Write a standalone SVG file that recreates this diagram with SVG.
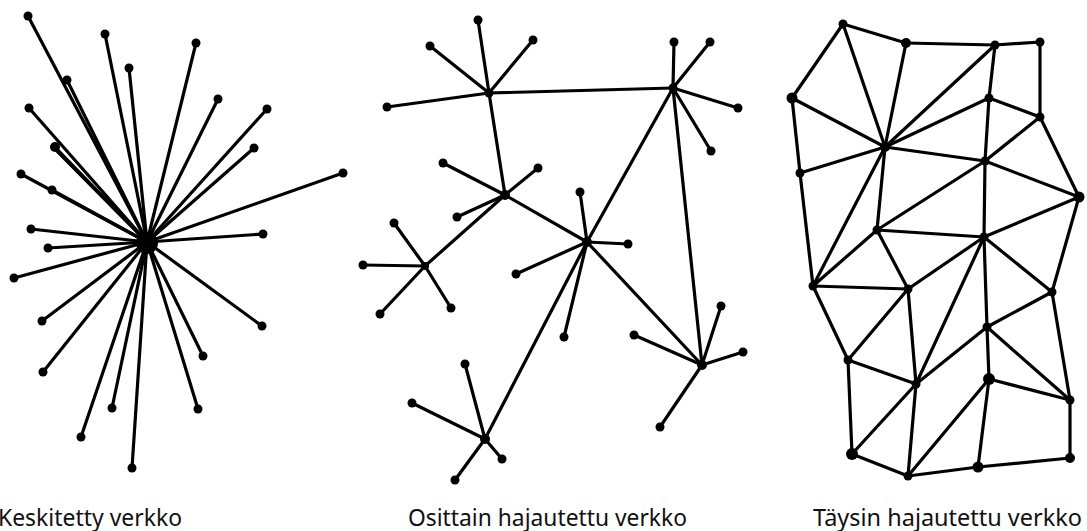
<svg xmlns="http://www.w3.org/2000/svg" width="1087" height="531" viewBox="0 0 1087 531">
<style>
.e{stroke:#000;stroke-width:3.2;stroke-linecap:round}
.n{fill:#000}
.t{font-family:"Noto Sans","Open Sans",sans-serif;font-size:23px;fill:#111}
</style>
<rect width="1087" height="531" fill="#fff"/>
<g id="connectors">
<g id="c-central">
<line class="e" x1="147" y1="242" x2="28" y2="16"/>
<line class="e" x1="147" y1="242" x2="105" y2="34"/>
<line class="e" x1="147" y1="242" x2="196" y2="43"/>
<line class="e" x1="147" y1="242" x2="129" y2="68"/>
<line class="e" x1="147" y1="242" x2="67" y2="80"/>
<line class="e" x1="147" y1="242" x2="218" y2="99"/>
<line class="e" x1="147" y1="242" x2="29" y2="108"/>
<line class="e" x1="147" y1="242" x2="267" y2="109"/>
<line class="e" x1="147" y1="242" x2="53" y2="145"/>
<line class="e" x1="147" y1="242" x2="57" y2="151"/>
<line class="e" x1="147" y1="242" x2="254" y2="148"/>
<line class="e" x1="147" y1="242" x2="21" y2="174"/>
<line class="e" x1="147" y1="242" x2="52" y2="190"/>
<line class="e" x1="147" y1="242" x2="343" y2="173"/>
<line class="e" x1="147" y1="242" x2="31" y2="229"/>
<line class="e" x1="147" y1="242" x2="263" y2="234"/>
<line class="e" x1="147" y1="242" x2="48" y2="248"/>
<line class="e" x1="147" y1="242" x2="14" y2="278"/>
<line class="e" x1="147" y1="242" x2="42" y2="321"/>
<line class="e" x1="147" y1="242" x2="262" y2="326"/>
<line class="e" x1="147" y1="242" x2="43" y2="372"/>
<line class="e" x1="147" y1="242" x2="203" y2="356"/>
<line class="e" x1="147" y1="242" x2="112" y2="408"/>
<line class="e" x1="147" y1="242" x2="198" y2="409"/>
<line class="e" x1="147" y1="242" x2="81" y2="437"/>
<line class="e" x1="147" y1="242" x2="132" y2="468"/>
</g>
<g id="c-partial">
<line class="e" x1="489" y1="93" x2="478" y2="20"/>
<line class="e" x1="489" y1="93" x2="430" y2="46"/>
<line class="e" x1="489" y1="93" x2="533" y2="40"/>
<line class="e" x1="489" y1="93" x2="387" y2="107"/>
<line class="e" x1="489" y1="93" x2="673" y2="88"/>
<line class="e" x1="489" y1="93" x2="505" y2="195"/>
<line class="e" x1="673" y1="88" x2="674" y2="42"/>
<line class="e" x1="673" y1="88" x2="710" y2="42"/>
<line class="e" x1="673" y1="88" x2="738" y2="108"/>
<line class="e" x1="673" y1="88" x2="711" y2="151"/>
<line class="e" x1="673" y1="88" x2="587" y2="242"/>
<line class="e" x1="673" y1="88" x2="702" y2="365"/>
<line class="e" x1="505" y1="195" x2="443" y2="163"/>
<line class="e" x1="505" y1="195" x2="538" y2="168"/>
<line class="e" x1="505" y1="195" x2="457" y2="217"/>
<line class="e" x1="505" y1="195" x2="587" y2="242"/>
<line class="e" x1="505" y1="195" x2="425" y2="266"/>
<line class="e" x1="587" y1="242" x2="580" y2="192"/>
<line class="e" x1="587" y1="242" x2="628" y2="244"/>
<line class="e" x1="587" y1="242" x2="516" y2="274"/>
<line class="e" x1="587" y1="242" x2="564" y2="337"/>
<line class="e" x1="587" y1="242" x2="702" y2="365"/>
<line class="e" x1="587" y1="242" x2="485" y2="439"/>
<line class="e" x1="702" y1="365" x2="634" y2="335"/>
<line class="e" x1="702" y1="365" x2="721" y2="306"/>
<line class="e" x1="702" y1="365" x2="743" y2="352"/>
<line class="e" x1="702" y1="365" x2="660" y2="427"/>
<line class="e" x1="425" y1="266" x2="363" y2="265"/>
<line class="e" x1="425" y1="266" x2="380" y2="314"/>
<line class="e" x1="425" y1="266" x2="451" y2="308"/>
<line class="e" x1="425" y1="266" x2="394" y2="223"/>
<line class="e" x1="485" y1="439" x2="465" y2="364"/>
<line class="e" x1="485" y1="439" x2="412" y2="403"/>
<line class="e" x1="485" y1="439" x2="502" y2="459"/>
<line class="e" x1="485" y1="439" x2="455" y2="480"/>
</g>
<g id="c-mesh">
<line class="e" x1="843" y1="24" x2="906" y2="43"/>
<line class="e" x1="843" y1="24" x2="792" y2="98"/>
<line class="e" x1="843" y1="24" x2="885" y2="147"/>
<line class="e" x1="906" y1="43" x2="995" y2="45"/>
<line class="e" x1="906" y1="43" x2="885" y2="147"/>
<line class="e" x1="995" y1="45" x2="1040" y2="42"/>
<line class="e" x1="995" y1="45" x2="885" y2="147"/>
<line class="e" x1="995" y1="45" x2="989" y2="98"/>
<line class="e" x1="1040" y1="42" x2="1040" y2="117"/>
<line class="e" x1="792" y1="98" x2="885" y2="147"/>
<line class="e" x1="792" y1="98" x2="800" y2="173"/>
<line class="e" x1="989" y1="98" x2="885" y2="147"/>
<line class="e" x1="989" y1="98" x2="1040" y2="117"/>
<line class="e" x1="989" y1="98" x2="985" y2="161"/>
<line class="e" x1="1040" y1="117" x2="985" y2="161"/>
<line class="e" x1="1040" y1="117" x2="1079" y2="197"/>
<line class="e" x1="885" y1="147" x2="800" y2="173"/>
<line class="e" x1="885" y1="147" x2="985" y2="161"/>
<line class="e" x1="885" y1="147" x2="877" y2="230"/>
<line class="e" x1="885" y1="147" x2="813" y2="286"/>
<line class="e" x1="985" y1="161" x2="1079" y2="197"/>
<line class="e" x1="985" y1="161" x2="984" y2="237"/>
<line class="e" x1="985" y1="161" x2="877" y2="230"/>
<line class="e" x1="1079" y1="197" x2="984" y2="237"/>
<line class="e" x1="1079" y1="197" x2="1052" y2="292"/>
<line class="e" x1="877" y1="230" x2="984" y2="237"/>
<line class="e" x1="800" y1="173" x2="813" y2="286"/>
<line class="e" x1="877" y1="230" x2="813" y2="286"/>
<line class="e" x1="877" y1="230" x2="908" y2="289"/>
<line class="e" x1="984" y1="237" x2="908" y2="289"/>
<line class="e" x1="984" y1="237" x2="1052" y2="292"/>
<line class="e" x1="984" y1="237" x2="987" y2="327"/>
<line class="e" x1="984" y1="237" x2="916" y2="384"/>
<line class="e" x1="813" y1="286" x2="908" y2="289"/>
<line class="e" x1="813" y1="286" x2="848" y2="360"/>
<line class="e" x1="908" y1="289" x2="848" y2="360"/>
<line class="e" x1="908" y1="289" x2="916" y2="384"/>
<line class="e" x1="1052" y1="292" x2="987" y2="327"/>
<line class="e" x1="1052" y1="292" x2="1070" y2="400"/>
<line class="e" x1="987" y1="327" x2="916" y2="384"/>
<line class="e" x1="987" y1="327" x2="989" y2="379"/>
<line class="e" x1="987" y1="327" x2="1070" y2="400"/>
<line class="e" x1="848" y1="360" x2="916" y2="384"/>
<line class="e" x1="848" y1="360" x2="852" y2="454"/>
<line class="e" x1="916" y1="384" x2="852" y2="454"/>
<line class="e" x1="916" y1="384" x2="908" y2="476"/>
<line class="e" x1="989" y1="379" x2="1070" y2="400"/>
<line class="e" x1="989" y1="379" x2="908" y2="476"/>
<line class="e" x1="989" y1="379" x2="978" y2="467"/>
<line class="e" x1="1070" y1="400" x2="1070" y2="458"/>
<line class="e" x1="852" y1="454" x2="908" y2="476"/>
<line class="e" x1="908" y1="476" x2="978" y2="467"/>
<line class="e" x1="978" y1="467" x2="1070" y2="458"/>
</g>
</g>
<g id="central-network">
<circle id="hub" class="n" cx="147" cy="243" r="11"/>
<g class="n">
<circle cx="28" cy="16" r="4.5"/><circle cx="105" cy="34" r="4.5"/><circle cx="196" cy="43" r="4.5"/>
<circle cx="129" cy="68" r="4.5"/><circle cx="67" cy="80" r="4.5"/><circle cx="218" cy="99" r="4.5"/>
<circle cx="29" cy="108" r="4.5"/><circle cx="267" cy="109" r="4.5"/><circle cx="55" cy="147" r="5"/>
<circle cx="254" cy="148" r="4.5"/><circle cx="21" cy="174" r="4.5"/><circle cx="52" cy="190" r="4.5"/>
<circle cx="343" cy="173" r="4.5"/><circle cx="31" cy="229" r="4.5"/><circle cx="263" cy="234" r="4.5"/>
<circle cx="48" cy="248" r="4.5"/><circle cx="14" cy="278" r="4.5"/><circle cx="42" cy="321" r="4.5"/>
<circle cx="262" cy="326" r="4.5"/><circle cx="43" cy="372" r="4.5"/><circle cx="203" cy="356" r="4.5"/>
<circle cx="112" cy="408" r="4.5"/><circle cx="198" cy="409" r="4.5"/><circle cx="81" cy="437" r="4.5"/>
<circle cx="132" cy="468" r="4.5"/>
</g>
</g>
<g id="partial-network" class="n">
<circle cx="489" cy="93" r="4.5"/><circle cx="673" cy="88" r="4.5"/><circle cx="505" cy="195" r="5"/>
<circle cx="587" cy="242" r="5"/><circle cx="702" cy="365" r="5"/><circle cx="425" cy="266" r="4"/>
<circle cx="485" cy="439" r="5"/>
<circle cx="478" cy="20" r="4.5"/><circle cx="430" cy="46" r="4.5"/><circle cx="533" cy="40" r="4.5"/>
<circle cx="387" cy="107" r="4.5"/><circle cx="674" cy="42" r="4.5"/><circle cx="710" cy="42" r="4.5"/>
<circle cx="738" cy="108" r="4.5"/><circle cx="711" cy="151" r="4.5"/><circle cx="443" cy="163" r="4.5"/>
<circle cx="538" cy="168" r="4.5"/><circle cx="457" cy="217" r="4.5"/><circle cx="580" cy="192" r="4.5"/>
<circle cx="628" cy="244" r="4.5"/><circle cx="516" cy="274" r="4.5"/><circle cx="564" cy="337" r="4.5"/>
<circle cx="634" cy="335" r="4.5"/><circle cx="721" cy="306" r="4.5"/><circle cx="743" cy="352" r="4.5"/>
<circle cx="660" cy="427" r="4.5"/><circle cx="363" cy="265" r="4.5"/><circle cx="380" cy="314" r="4.5"/>
<circle cx="451" cy="308" r="4.5"/><circle cx="394" cy="223" r="4.5"/><circle cx="465" cy="364" r="4.5"/>
<circle cx="412" cy="403" r="4.5"/><circle cx="502" cy="459" r="4.5"/><circle cx="455" cy="480" r="4.5"/>
</g>
<g id="mesh-network" class="n">
<circle cx="843" cy="24" r="4.5"/><circle cx="906" cy="43" r="5"/><circle cx="995" cy="45" r="4.5"/>
<circle cx="1040" cy="42" r="4.5"/><circle cx="792" cy="98" r="5.5"/><circle cx="989" cy="98" r="4.5"/>
<circle cx="1040" cy="117" r="4.5"/><circle cx="885" cy="147" r="5"/><circle cx="800" cy="173" r="4.5"/>
<circle cx="985" cy="161" r="4.5"/><circle cx="1079" cy="197" r="5.5"/><circle cx="877" cy="230" r="4.5"/>
<circle cx="984" cy="237" r="4.5"/><circle cx="813" cy="286" r="4.5"/><circle cx="908" cy="289" r="4.5"/>
<circle cx="1052" cy="292" r="4.5"/><circle cx="987" cy="327" r="4.5"/><circle cx="848" cy="360" r="4.5"/>
<circle cx="916" cy="384" r="4.5"/><circle cx="989" cy="379" r="6"/><circle cx="1070" cy="400" r="4.5"/>
<circle cx="852" cy="454" r="6"/><circle cx="908" cy="476" r="4.5"/><circle cx="978" cy="467" r="5.5"/>
<circle cx="1070" cy="458" r="5"/>
</g>
<g id="labels">
<text class="t" x="-2" y="526" textLength="184" lengthAdjust="spacingAndGlyphs">Keskitetty verkko</text>
<text class="t" x="408" y="526" textLength="279" lengthAdjust="spacingAndGlyphs">Osittain hajautettu verkko</text>
<text class="t" x="813" y="526" textLength="269" lengthAdjust="spacingAndGlyphs">Täysin hajautettu verkko</text>
</g>
</svg>
